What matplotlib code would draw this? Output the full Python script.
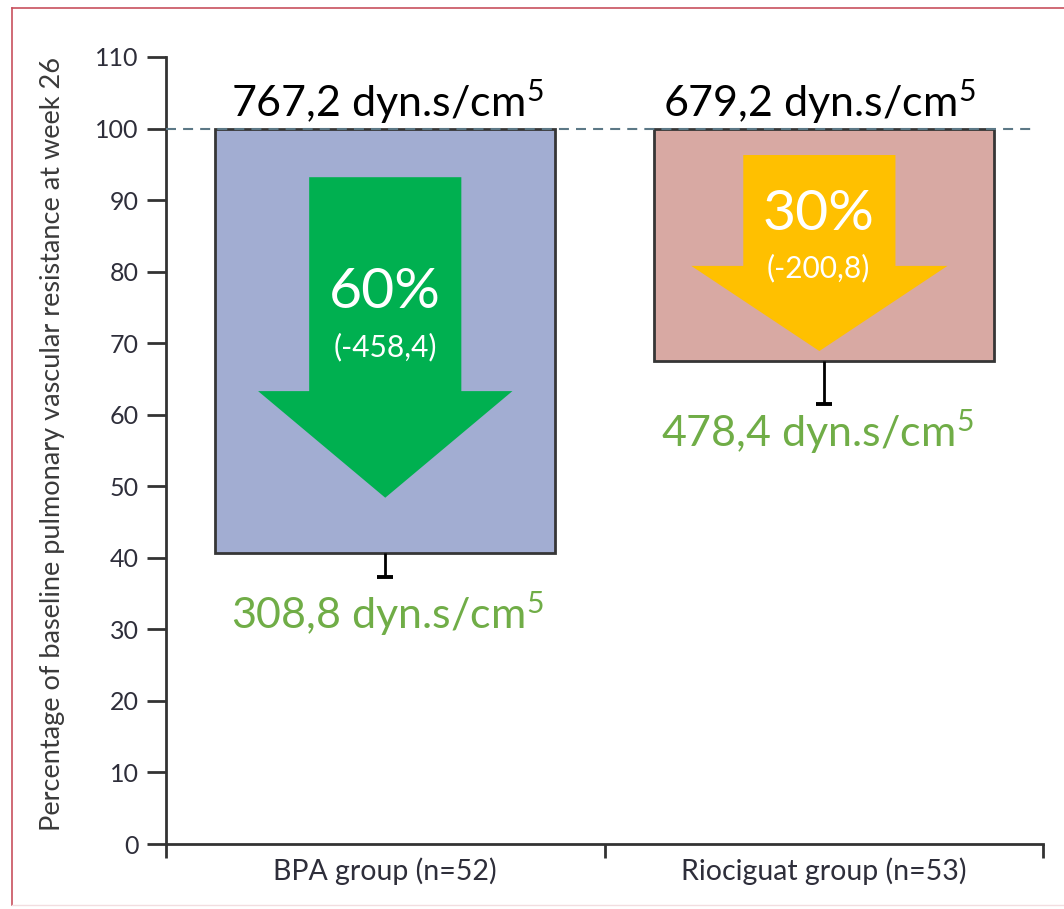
import matplotlib
matplotlib.use("Agg")
import matplotlib.pyplot as plt
from matplotlib.patches import Polygon
from matplotlib.lines import Line2D

# ---- data -------------------------------------------------------------
groups = ["BPA group (n=52)", "Riociguat group (n=53)"]
baseline_pct = 100
week26_pct = [40.7, 67.5]          # mean % of baseline PVR at week 26
lower_limit_pct = [37.3, 61.5]     # lower end of the error bar
baseline_pvr = ["767,2", "679,2"]  # dyn.s/cm5 at baseline
week26_pvr = ["308,8", "478,4"]    # dyn.s/cm5 at week 26
reduction_pct = ["60%", "30%"]
reduction_pvr = ["(-458,4)", "(-200,8)"]
yticks = list(range(0, 111, 10))

# ---- style ------------------------------------------------------------
FONT = ["Lato", "DejaVu Sans"]
plt.rcParams["font.family"] = FONT
plt.rcParams["mathtext.fontset"] = "custom"
plt.rcParams["mathtext.rm"] = "Lato"
plt.rcParams["mathtext.it"] = "Lato"
plt.rcParams["mathtext.bf"] = "Lato:bold"

bar_colors = ["#A2ADD2", "#D8A9A3"]
arrow_colors = ["#00B050", "#FFC000"]
green_text = "#70AD47"
axis_color = "#333333"

fig = plt.figure(figsize=(10.64, 9.09), dpi=100)
ax = fig.add_axes([166 / 1064, 1 - 844 / 909, (1043 - 166) / 1064, (844 - 57) / 909])

x = [0.5, 1.5]

# bars hang from the 100 % baseline down to the week-26 value
ax.bar(x, [baseline_pct - v for v in week26_pct], bottom=week26_pct,
       width=0.775, color=bar_colors, edgecolor="#363636", linewidth=2.0,
       zorder=2)

# one-sided error bars below each bar
ax.vlines(x, lower_limit_pct, week26_pct, color="black", linewidth=2.0,
          zorder=3)
ax.plot(x, lower_limit_pct, linestyle="none", marker="_", markersize=12,
        markeredgewidth=2.8, color="black", zorder=3)

# baseline reference line
ax.plot([0, 1.977], [baseline_pct, baseline_pct], color="#5C7886",
        linewidth=1.5, dashes=(4.8, 3.4), zorder=4, clip_on=False)


def down_arrow(cx, top, neck, tip, shaft_hw, head_hw, color):
    pts = [(cx - shaft_hw, top), (cx + shaft_hw, top), (cx + shaft_hw, neck),
           (cx + head_hw, neck), (cx, tip), (cx - head_hw, neck),
           (cx - shaft_hw, neck)]
    ax.add_patch(Polygon(pts, closed=True, facecolor=color, edgecolor="none",
                         zorder=3))


down_arrow(0.5, 93.2, 63.3, 48.4, 0.1735, 0.29, arrow_colors[0])
down_arrow(1.49, 96.3, 80.8, 68.9, 0.1735, 0.292, arrow_colors[1])

# reduction labels inside the arrows
big_y = [74.9, 85.8]
small_y = [68.1, 79.2]
arrow_x = [0.5, 1.488]
for i in range(2):
    ax.text(arrow_x[i], big_y[i], reduction_pct[i], color="white",
            fontsize=41, ha="center", va="baseline", zorder=5)
    ax.text(arrow_x[i], small_y[i], reduction_pvr[i], color="white",
            fontsize=21.5, ha="center", va="baseline", zorder=5)

# absolute PVR values
top_x = [0.505, 1.489]
for i in range(2):
    ax.text(top_x[i], 101.7, baseline_pvr[i] + r" dyn.s/cm$^{5}$",
            color="black", fontsize=31, ha="center", va="baseline", zorder=5)
low_x = [0.505, 1.485]
low_y = [30.1, 55.6]
for i in range(2):
    ax.text(low_x[i], low_y[i], week26_pvr[i] + r" dyn.s/cm$^{5}$",
            color=green_text, fontsize=31, ha="center", va="baseline",
            zorder=5)

# ---- axes -------------------------------------------------------------
ax.set_xlim(0, 2)
ax.set_ylim(0, 110)
for side in ("top", "right"):
    ax.spines[side].set_visible(False)
for side in ("left", "bottom"):
    ax.spines[side].set_color(axis_color)
    ax.spines[side].set_linewidth(2.0)

ax.set_yticks(yticks)
ax.set_yticklabels([str(t) for t in yticks])
ax.tick_params(axis="y", direction="out", length=13.5, width=2.0,
               color=axis_color, labelcolor="#2E2E3A", labelsize=18, pad=6)

ax.set_xticks([0, 1, 2])
ax.set_xticklabels([])
ax.set_xticks(x, minor=True)
ax.set_xticklabels(groups, minor=True)
ax.tick_params(axis="x", which="major", direction="out", length=10,
               width=2.0, color=axis_color)
ax.tick_params(axis="x", which="minor", length=0, labelsize=20.5,
               labelcolor="#2E2E3A", pad=10)

fig.text(53 / 1064, 1 - 444 / 909,
         "Percentage of baseline pulmonary vascular resistance at week 26",
         rotation=90, ha="center", va="center", fontsize=19.5,
         color="#3A3A3A")

# thin frame around the figure
frame = "#C8505E"
fig.add_artist(Line2D([12 / 1064, 12 / 1064], [1 - 8 / 909, 1 - 905 / 909],
                      color=frame, linewidth=1.2, transform=fig.transFigure))
fig.add_artist(Line2D([12 / 1064, 1.0], [1 - 8 / 909, 1 - 8 / 909],
                      color=frame, linewidth=1.2, transform=fig.transFigure))
fig.add_artist(Line2D([12 / 1064, 1.0], [1 - 905 / 909, 1 - 905 / 909],
                      color="#F2DDE0", linewidth=1.0, transform=fig.transFigure))

fig.savefig("out.png", dpi=100)
